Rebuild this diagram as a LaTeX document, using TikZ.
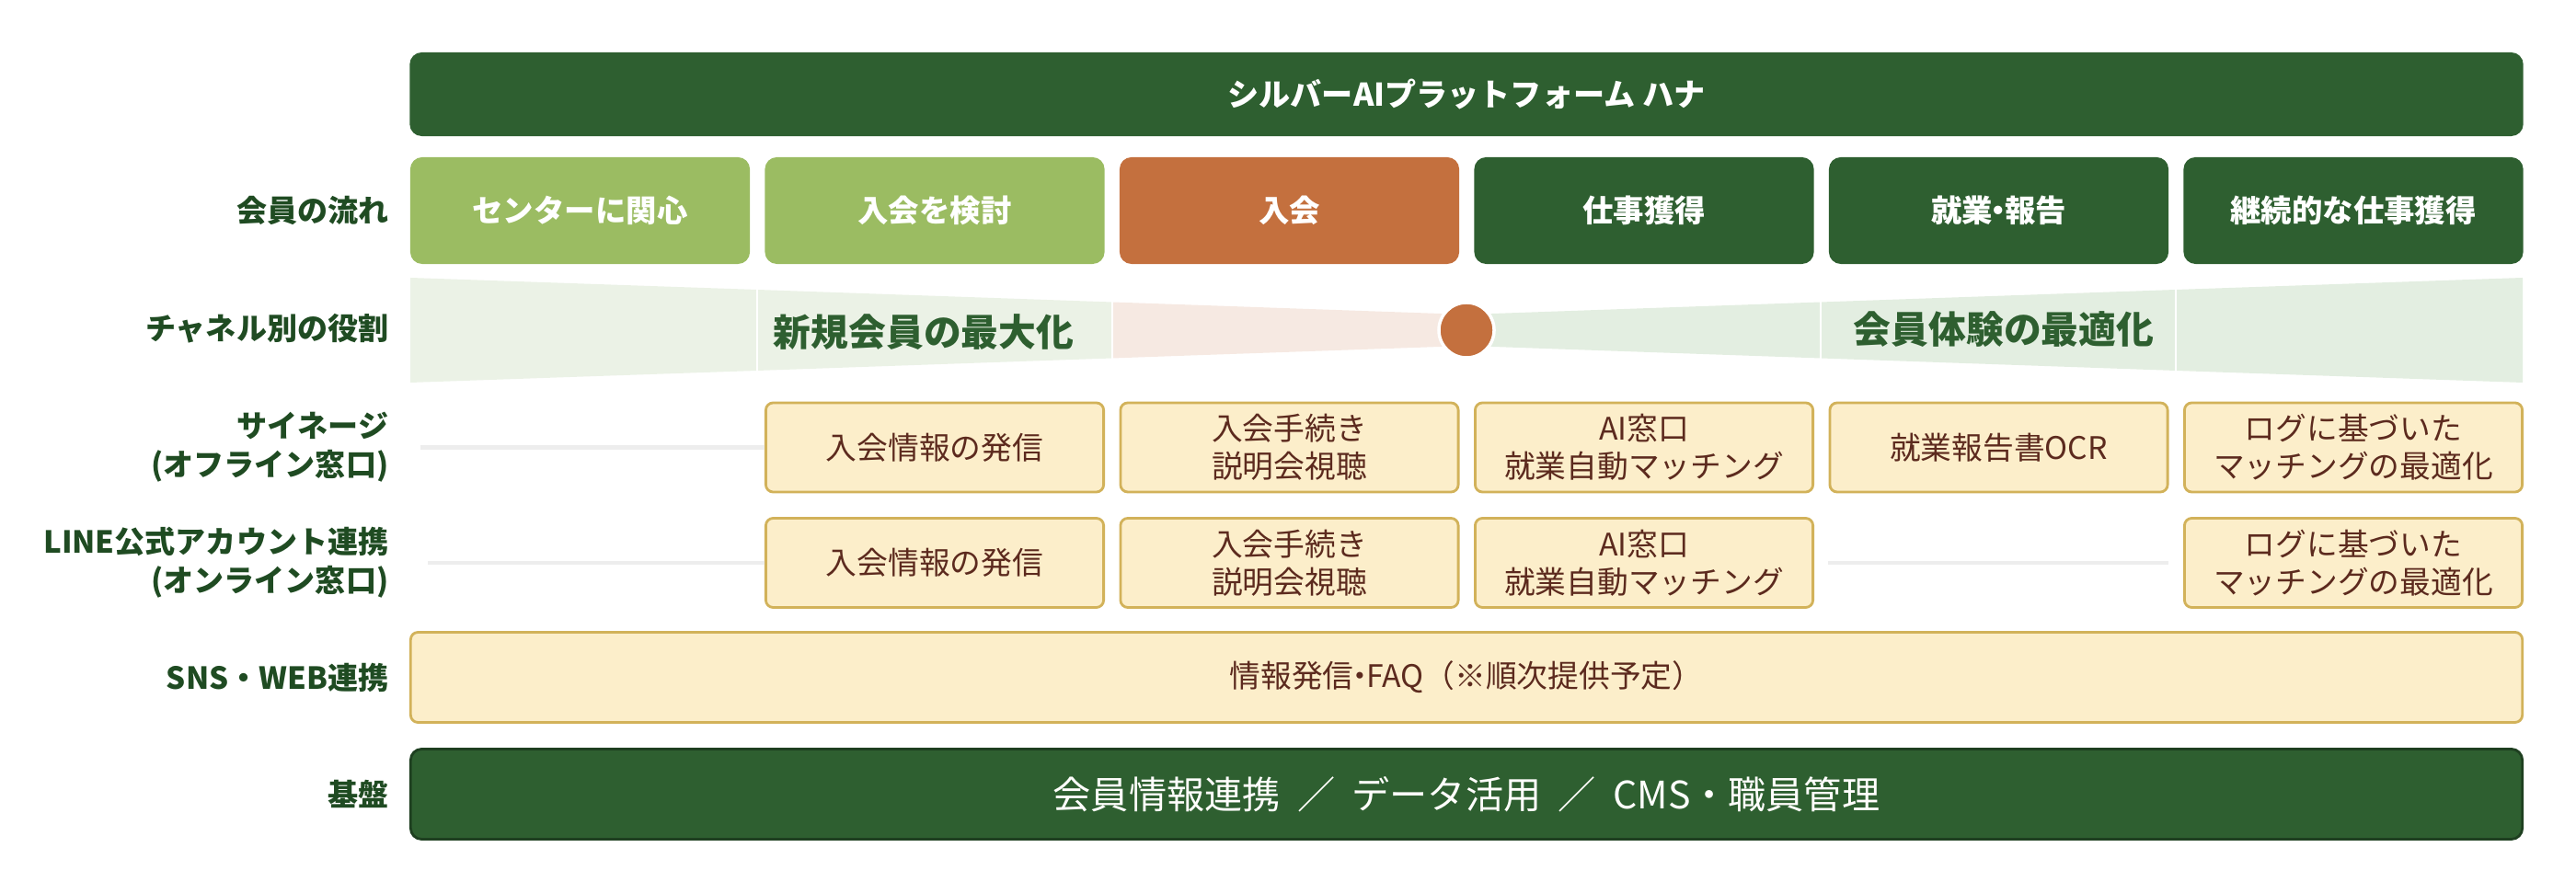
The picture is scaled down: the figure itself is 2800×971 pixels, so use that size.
\documentclass[tikz,border=0pt]{standalone}
\usepackage{fontspec}
\setmainfont{Noto Sans CJK JP}
\definecolor{HanaGreen}{HTML}{2E5F30}
\definecolor{BaseEdge}{HTML}{1E3F20}
\definecolor{LeafGreen}{HTML}{9BBC62}
\definecolor{Rust}{HTML}{C4703E}
\definecolor{Cream}{HTML}{FCEECA}
\definecolor{Gold}{HTML}{D2B25A}
\definecolor{Cocoa}{HTML}{5C2A1E}
\definecolor{LabelGreen}{HTML}{1F4B22}
\definecolor{FunnelGreen}{HTML}{EBF2E6}
\definecolor{FunnelPink}{HTML}{F6E9E2}
\definecolor{FunnelMint}{HTML}{E3EEE1}
\definecolor{GapGrey}{HTML}{EDEDED}
\newcommand{\tightDot}{\kern-0.3em・\kern-0.3em}

\begin{document}
\begin{tikzpicture}[x=0.01cm, y=-0.01cm,
TitleBar/.style={fill=HanaGreen, rounded corners=0.13cm, minimum width=22.96cm, minimum height=0.91cm, text=white, font=\fontsize{9.7}{12}\selectfont\bfseries},
FlowBox/.style={rounded corners=0.13cm, minimum width=3.69cm, minimum height=1.16cm, text=white, font=\fontsize{9.5}{12}\selectfont\bfseries},
RoleBox/.style={draw=Gold, line width=0.8pt, fill=Cream, rounded corners=0.08cm, minimum width=3.67cm, minimum height=0.97cm, text=Cocoa, align=center, font=\fontsize{9.6}{11.7}\selectfont},
RowLabel/.style={anchor=east, align=right, text=LabelGreen, inner sep=0pt, font=\fontsize{9.4}{11.9}\selectfont\bfseries},
FunnelText/.style={text=HanaGreen, font=\fontsize{11.6}{14}\selectfont\bfseries},
GapLine/.style={GapGrey, line width=1.4pt}]
\useasboundingbox (0,0) rectangle (2800,971);
\def\midY{359}
% platform bar
\node [TitleBar] (platform) at (1594, 102.5) {シルバーAIプラットフォーム ハナ};
% member flow
\foreach \col/\name/\clr in {1/センターに関心/LeafGreen, 2/入会を検討/LeafGreen, 3/入会/Rust, 4/仕事獲得/HanaGreen, 5/就業\tightDot 報告/HanaGreen, 6/継続的な仕事獲得/HanaGreen} {
  \node [FlowBox, fill=\clr] (flow\col) at ({630.5+(\col-1)*385.5}, 229) {\name};
}
% funnel of channel roles
\foreach \xa/\ha/\xb/\hb/\clr in {446/57/823/44/FunnelGreen, 823/44/1209/30.5/FunnelGreen, 1209/30.5/1594/17/FunnelPink, 1594/17/1979/30.5/FunnelMint, 1979/30.5/2365/44/FunnelMint, 2365/44/2742/57/FunnelMint} {
  \fill [\clr] (\xa, {\midY-\ha}) -- (\xb, {\midY-\hb}) -- (\xb, {\midY+\hb}) -- (\xa, {\midY+\ha}) -- cycle;
}
\foreach \xa in {823, 1209, 1979, 2365} {
  \draw [white, line width=0.6pt] (\xa, 300) -- (\xa, 420);
}
\node [circle, fill=Rust, draw=white, line width=1pt, minimum size=0.6cm, inner sep=0pt] (joinDot) at (1594, \midY) {};
\node [FunnelText] (newMembers) at (1004, 361) {新規会員の最大化};
\node [FunnelText] (memberExp) at (2178, 358) {会員体験の最適化};
% signage row
\foreach \col/\txt in {2/入会情報の発信, 3/{入会手続き\\説明会視聴}, 4/{AI窓口\\就業自動マッチング}, 5/就業報告書OCR, 6/{ログに基づいた\\マッチングの最適化}} {
  \node [RoleBox] (sign\col) at ({630.5+(\col-1)*385.5}, 486.5) {\txt};
}
% LINE row
\foreach \col/\txt in {2/入会情報の発信, 3/{入会手続き\\説明会視聴}, 4/{AI窓口\\就業自動マッチング}, 6/{ログに基づいた\\マッチングの最適化}} {
  \node [RoleBox] (line\col) at ({630.5+(\col-1)*385.5}, 612) {\txt};
}
\coordinate (signGap) at (457, 486.5);
\coordinate (lineGap) at (465, 612);
\coordinate (lineGapA) at (1987, 612);
\coordinate (lineGapB) at (2357, 612);
\draw [GapLine] (signGap) -- (sign2.west);
\draw [GapLine] (lineGap) -- (line2.west);
\draw [GapLine] (lineGapA) -- (lineGapB);
% sns and base
\node [RoleBox, minimum width=22.94cm, minimum height=0.98cm] (snsBar) at (1594, 736.5) {情報発信\tightDot FAQ（※順次提供予定）};
\node [draw=BaseEdge, line width=0.8pt, fill=HanaGreen, rounded corners=0.12cm, minimum width=22.94cm, minimum height=0.98cm, text=white!94!Cream, font=\fontsize{11.7}{14}\selectfont] (baseBar) at (1594, 863.5) {会員情報連携 \ ／ \ データ活用 \ ／ \ CMS・職員管理};
% row labels
\node [RowLabel] (lblFlow) at (423, 229) {会員の流れ};
\node [RowLabel] (lblRole) at (423, 357) {チャネル別の役割};
\node [RowLabel] (lblSign) at (423, 486.5) {サイネージ\\(オフライン窓口)};
\node [RowLabel] (lblLine) at (423, 612) {LINE公式アカウント連携\\(オンライン窓口)};
\node [RowLabel] (lblSns) at (423, 736.5) {SNS・WEB連携};
\node [RowLabel] (lblBase) at (423, 863.5) {基盤};
\end{tikzpicture}
\end{document}
